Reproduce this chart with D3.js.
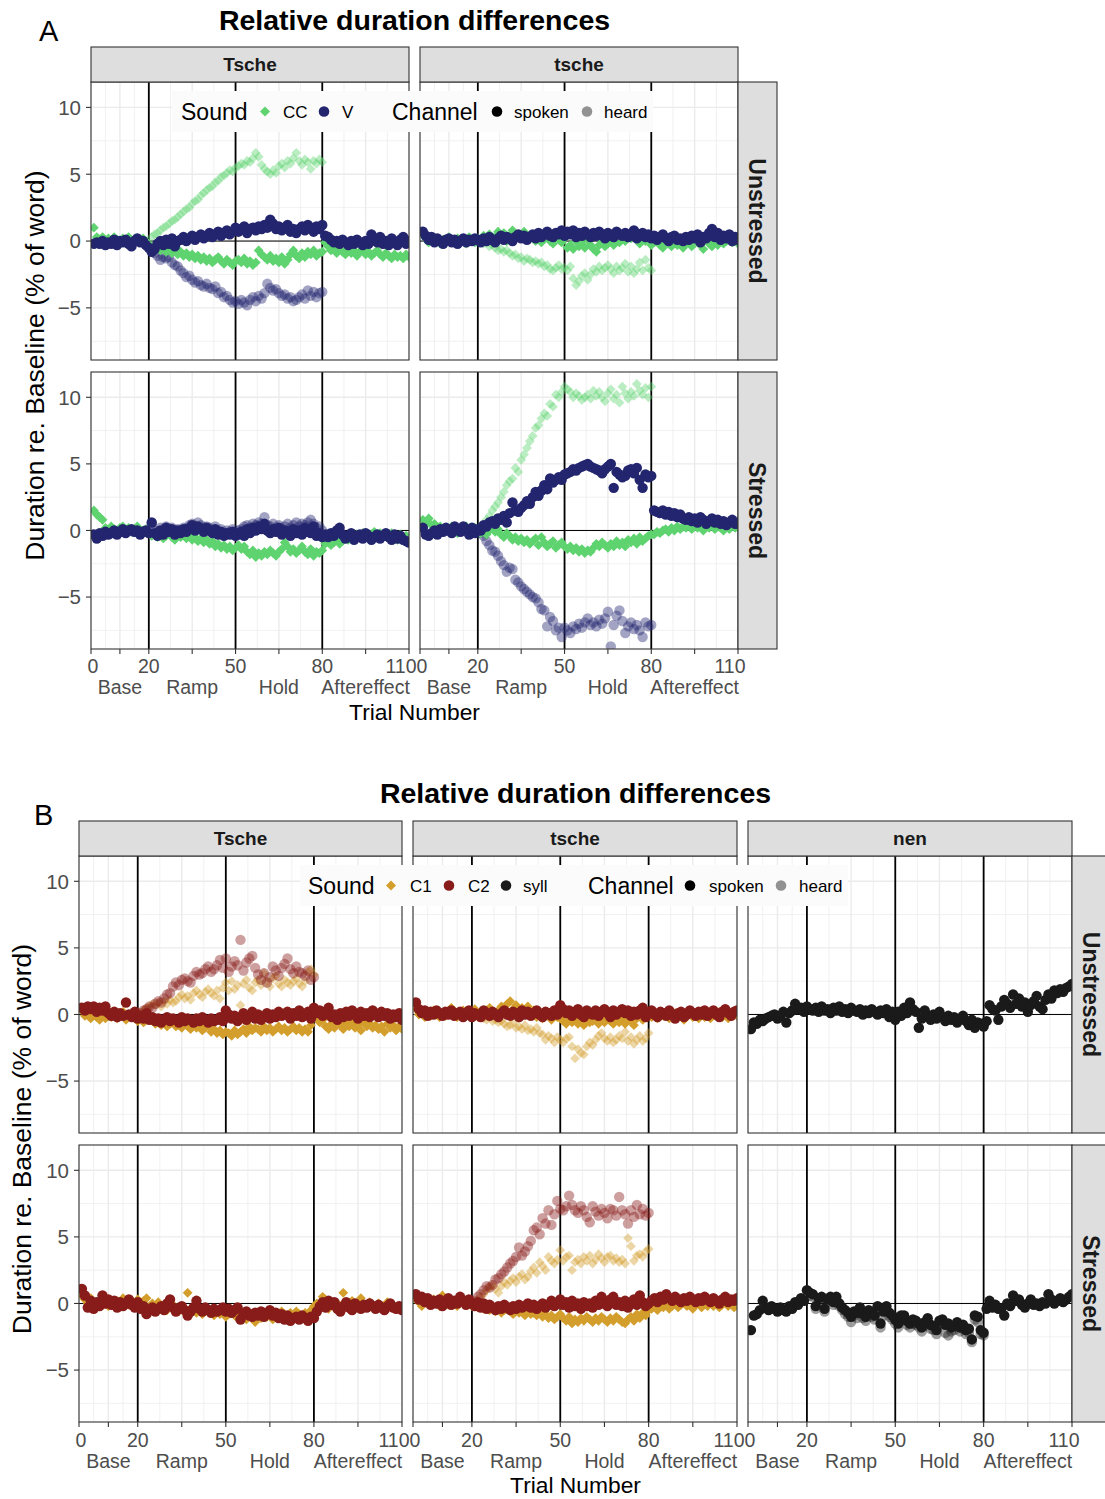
<!DOCTYPE html>
<html><head><meta charset="utf-8">
<script src="https://cdn.jsdelivr.net/npm/d3@7"></script>
<style>
body{margin:0;background:#fff}
svg{display:block}
text{font-family:"Liberation Sans",Arial,Helvetica,sans-serif}
</style>
</head><body>
<svg id="chart" width="1105" height="1499"></svg>
<script>
// ---------------- DATA ----------------
// spoken series: trials 1..110 ; heard series: trials 21..80
const spokenStart = 1, heardStart = 21;

// A: Tsche Unstressed
const A_Tsche_U_CC_spoken = [1.0,0.3,0.1,0.3,-0.1,0.2,0.0,0.3,0.1,-0.1, 0.2,0.0,0.3,-0.2,0.1,0.2,-0.1,0.2,0.0,-0.3,
 -0.4,-0.6,-0.3,-0.7,-0.5,-0.8,-0.6,-0.9,-0.7,-1.0, -0.8,-1.1,-0.9,-1.2,-1.0,-1.3,-1.1,-1.4,-1.2,-1.5,
 -1.3,-1.6,-1.4,-1.2,-1.5,-1.7,-1.4,-1.6,-1.8,-1.5, -1.4,-1.6,-1.3,-1.7,-1.5,-1.8,-1.6,-0.7,-1.0,-1.2,
 -1.4,-1.1,-1.5,-1.3,-1.6,-1.2,-1.7,-1.4,-1.0,-0.7, -1.1,-1.3,-0.9,-1.2,-0.8,-1.0,-0.7,-1.1,-0.9,-0.8,
 -0.1,-0.4,-0.7,-0.5,-0.9,-0.6,-0.8,-1.0,-0.6,-0.9, -0.7,-1.1,-0.8,-0.6,-1.0,-0.8,-1.1,-0.9,-0.7,-1.0,
 -1.2,-0.9,-1.1,-1.3,-1.0,-1.2,-1.1,-1.3,-1.0,-1.2];
const A_Tsche_U_V_spoken = [-0.2,-0.1,-0.2,0.0,-0.3,-0.1,-0.2,0.1,-0.3,0.0, -0.1,0.1,-0.2,-0.4,0.0,0.2,-0.1,0.0,-0.3,-0.5,
 -0.8,-0.6,-0.2,0.0,-0.3,0.1,-0.2,0.2,-0.4,0.0, 0.1,0.3,0.0,0.2,0.4,0.1,0.3,0.5,0.2,0.4,
 0.6,0.3,0.5,0.7,0.4,0.6,0.8,0.5,0.7,1.0, 0.7,0.9,1.1,0.6,0.9,1.0,0.8,1.1,0.9,1.2,
 1.0,1.6,1.3,0.9,1.1,0.8,1.0,1.2,0.7,0.9, 0.6,0.9,1.1,0.8,1.2,1.0,0.7,1.1,0.9,1.2,
 0.4,0.3,0.1,-0.1,0.0,-0.2,0.1,-0.1,-0.3,0.0, -0.2,0.1,-0.1,-0.3,0.0,-0.2,0.5,0.2,-0.1,0.3,
 -0.2,0.0,-0.3,0.2,-0.1,-0.3,0.1,0.3,-0.2,0.0];
const A_Tsche_U_CC_heard = [0.3,0.5,0.6,0.8,1.0,1.1,1.3,1.5,1.6,1.8, 2.0,2.2,2.4,2.5,2.8,3.0,3.1,3.4,3.6,3.8,
 4.0,4.1,4.4,4.5,4.8,4.9,5.1,5.3,5.2,5.5, 5.6,5.8,5.7,6.0,5.9,6.2,6.6,6.3,5.7,5.4,
 5.2,5.0,5.3,5.1,5.6,5.8,5.5,6.0,5.8,6.2, 6.6,6.0,5.7,6.1,5.9,5.4,6.0,5.8,6.1,5.9];
const A_Tsche_U_V_heard = [-0.6,-0.9,-1.1,-1.4,-1.2,-1.3,-1.2,-1.6,-1.8,-1.9, -2.2,-2.4,-2.7,-2.6,-2.9,-3.1,-3.0,-3.3,-3.4,-3.2,
 -3.5,-3.6,-3.4,-3.9,-3.8,-4.2,-4.1,-4.4,-4.6,-4.5, -4.7,-4.4,-4.6,-4.8,-4.4,-4.2,-4.5,-4.1,-4.3,-3.9,
 -3.2,-3.5,-3.7,-3.6,-3.9,-4.1,-4.0,-4.3,-4.2,-4.5, -4.4,-4.2,-4.0,-4.3,-3.7,-4.1,-3.8,-4.2,-3.9,-3.8];

// A: tsche Unstressed
const A_tsche_U_CC_spoken = [0.5,0.2,-0.1,0.3,0.0,0.2,-0.2,0.1,0.0,0.3, 0.1,-0.1,0.2,0.0,0.1,-0.2,0.3,0.1,-0.1,0.2,
 0.0,0.4,0.1,0.5,-0.1,0.3,0.7,0.2,0.6,0.0, 0.4,0.8,0.2,0.5,0.3,0.7,0.1,0.4,0.2,0.0,
 0.3,-0.1,0.2,0.5,0.0,-0.2,0.3,0.1,-0.1,0.2, -0.5,-0.3,-0.6,0.0,-0.4,-0.2,-0.5,0.1,-0.3,-0.6,
 -0.8,-0.3,0.0,-0.4,-0.2,0.1,-0.3,0.2,-0.1,0.3, 0.0,0.5,0.2,0.7,0.1,-0.2,0.4,0.0,0.2,-0.3,
 -0.1,0.2,-0.3,-0.5,0.0,-0.2,-0.4,0.1,-0.3,-0.1, -0.5,-0.2,0.0,-0.4,0.2,-0.1,-0.3,-0.6,0.1,-0.2,
 -0.4,-0.1,-0.3,0.2,-0.2,0.0,0.3,-0.1,0.1,-0.2];
const A_tsche_U_V_spoken = [0.7,0.4,0.1,0.3,-0.1,0.2,0.0,-0.2,0.1,0.2, -0.1,0.1,-0.2,0.0,0.2,-0.1,0.1,0.0,0.2,0.1,
 -0.1,0.2,0.0,0.3,0.1,-0.1,0.2,0.4,0.1,0.3, 0.2,0.0,0.3,0.5,0.2,0.4,0.1,0.3,0.5,0.2,
 0.6,0.3,0.5,0.7,0.4,0.3,0.6,0.5,0.8,0.4, 0.7,0.5,0.8,0.3,0.6,0.4,0.7,0.5,0.3,0.6,
 0.4,0.7,0.5,0.2,0.6,0.4,0.3,0.7,0.5,0.4, 0.6,0.3,0.5,0.8,0.2,0.4,0.6,0.3,0.5,0.2,
 0.4,0.1,0.3,0.5,0.2,0.0,0.3,0.4,0.1,0.2, 0.0,0.3,0.1,0.4,0.2,0.5,-0.1,0.3,0.2,0.6,
 0.9,0.3,0.6,0.1,0.4,0.2,0.5,0.0,0.3,0.1];
const A_tsche_U_CC_heard = [0.0,-0.2,-0.1,-0.4,-0.3,-0.5,-0.7,-0.6,-0.8,-0.7, -0.9,-1.1,-1.0,-1.3,-1.2,-1.5,-1.3,-1.4,-1.6,-1.5,
 -1.7,-1.6,-1.9,-1.8,-2.1,-2.2,-2.0,-1.8,-2.1,-2.0, -2.2,-1.9,-2.8,-3.3,-3.0,-2.6,-2.4,-2.9,-2.5,-2.1,
 -2.3,-1.9,-2.2,-2.0,-1.8,-2.1,-2.4,-1.9,-2.2,-2.0, -1.7,-2.3,-1.9,-2.4,-2.1,-1.6,-2.2,-1.4,-2.0,-2.2];

// A: Tsche Stressed
const A_Tsche_S_CC_spoken = [1.5,1.2,1.0,0.8,0.2,0.0,0.3,0.1,-0.1,0.2, 0.3,0.0,0.2,-0.1,0.1,0.3,-0.2,0.0,0.1,-0.2,
 -0.4,-0.2,-0.5,-0.3,-0.6,-0.4,-0.2,-0.5,-0.7,-0.3, -0.5,-0.2,-0.6,-0.4,-0.7,-0.5,-0.8,-0.6,-0.9,-0.7,
 -1.0,-0.8,-1.2,-1.0,-1.3,-1.1,-1.4,-1.2,-1.5,-1.3, -1.1,-1.4,-1.2,-1.6,-1.8,-1.5,-2.0,-1.7,-1.9,-1.6,
 -1.8,-1.5,-1.7,-1.9,-1.6,-1.4,-0.9,-1.2,-1.6,-1.4, -1.7,-1.5,-1.2,-1.6,-1.8,-1.4,-1.9,-1.6,-1.7,-1.5,
 -1.0,-0.8,-1.1,-0.9,-0.7,-1.0,-0.8,-0.5,-0.7,-0.4, -0.6,-0.3,-0.5,-0.2,-0.4,-0.6,-0.3,-0.1,-0.4,-0.2,
 -0.5,-0.3,-0.6,-0.2,-0.4,-0.7,-0.3,-0.5,-0.4,-0.6];
const A_Tsche_S_V_spoken = [-0.3,-0.6,-0.2,-0.4,-0.1,-0.3,-0.2,0.0,-0.3,-0.1, 0.1,-0.2,0.0,0.1,-0.1,0.0,-0.3,-0.1,0.0,-0.2,
 0.6,-0.2,-0.4,0.0,-0.3,0.2,-0.1,0.1,-0.3,0.0, -0.2,0.1,-0.1,0.2,0.4,0.0,0.3,0.1,-0.1,0.2,
 0.0,-0.2,0.1,-0.3,-0.1,-0.4,-0.2,-0.3,-0.1,-0.4, -0.3,-0.1,-0.4,0.1,-0.2,0.2,0.0,0.3,0.1,0.5,
 0.0,-0.2,0.1,-0.1,0.2,-0.3,0.0,-0.1,-0.4,0.1, -0.2,0.0,-0.3,0.2,-0.1,-0.2,0.3,-0.4,-0.2,-0.5,
 -0.3,-0.5,-0.2,-0.4,0.0,0.2,-0.3,-0.6,-0.4,-0.2, -0.7,-0.5,-0.3,-0.6,-0.2,-0.4,-0.7,-0.5,-0.3,-0.6,
 -0.4,-0.2,-0.5,-0.7,-0.3,-0.6,-0.4,-0.7,-0.8,-0.9];
const A_Tsche_S_V_heard = [0.5,0.0,-0.2,0.2,-0.1,0.3,0.1,0.2,-0.1,0.1, 0.0,0.2,0.1,0.4,0.5,0.3,0.6,0.4,0.2,0.3,
 0.2,0.0,0.3,-0.1,0.1,-0.2,0.0,-0.1,0.1,-0.2, 0.0,0.1,0.3,0.4,0.2,0.5,0.4,0.6,0.5,1.0,
 0.4,0.3,0.5,0.2,0.4,0.1,0.3,0.5,0.2,0.4, 0.6,0.3,0.5,0.4,0.6,0.8,0.5,0.2,0.3,0.0];

// A: tsche Stressed
const A_tsche_S_CC_spoken = [0.8,0.6,0.9,0.4,0.5,0.1,0.3,-0.1,0.2,0.0, 0.3,0.1,-0.2,0.2,0.0,0.3,0.1,-0.1,0.2,0.0,
 -0.2,0.1,-0.3,0.0,0.2,-0.1,0.1,-0.3,-0.5,-0.2, -0.4,-0.7,-0.5,-0.8,-0.6,-0.9,-0.7,-1.0,-0.8,-0.6,
 -1.1,-0.5,-0.9,-1.2,-1.0,-0.8,-1.3,-1.1,-0.9,-1.2, -1.4,-1.2,-1.5,-1.3,-1.6,-1.4,-1.7,-1.5,-1.6,-1.3,
 -1.0,-1.2,-0.9,-1.1,-1.3,-1.0,-1.2,-0.8,-1.1,-0.9, -1.2,-0.7,-0.9,-0.6,-1.0,-0.5,-0.8,-0.6,-0.4,-0.3,
 -0.3,-0.1,-0.2,0.0,0.1,-0.1,0.2,0.0,0.3,0.1, 0.3,0.2,0.4,0.1,0.3,0.2,0.4,0.0,0.3,0.2,
 0.4,0.1,0.3,0.2,0.0,0.3,0.1,0.4,0.2,0.3];
const A_tsche_S_V_spoken = [0.2,-0.3,-0.4,-0.2,0.0,-0.3,0.1,-0.1,0.2,0.0, -0.2,0.3,0.1,-0.1,0.3,0.0,-0.3,0.2,-0.2,0.1,
 0.0,0.4,0.3,0.6,0.7,0.5,0.9,0.8,1.1,0.6, 1.3,2.1,1.5,1.4,1.7,1.9,2.2,2.0,2.5,2.9,
 2.6,3.0,3.4,3.1,3.9,3.6,3.8,4.0,3.8,4.2, 4.3,4.4,4.6,4.5,4.7,4.8,4.9,5.0,4.8,4.7,
 4.6,4.5,4.3,4.6,4.8,5.0,3.2,4.4,4.2,4.0, 4.1,4.5,4.6,4.3,4.7,3.8,3.2,4.2,4.0,4.1,
 1.5,1.4,1.3,1.5,1.2,1.4,1.1,1.3,1.0,1.2, 0.9,0.8,1.0,0.7,0.9,0.6,1.0,0.8,0.5,0.7,
 0.9,0.6,0.8,0.5,0.7,0.4,0.6,0.8,0.5,0.6];
const A_tsche_S_CC_heard = [0.0,0.4,0.8,1.1,1.5,1.8,2.1,2.5,2.9,3.4, 3.7,3.9,4.7,4.4,5.3,5.7,6.2,6.7,7.1,7.7,
 7.9,8.4,8.8,8.6,9.5,9.3,10.2,10.0,10.4,10.8, 10.6,10.4,10.0,10.3,10.1,9.8,10.0,10.2,9.9,10.5,
 10.1,10.4,10.0,9.7,10.3,10.6,9.9,10.2,9.6,10.8, 10.3,9.9,10.4,10.1,11.0,10.5,10.2,10.7,10.0,10.8];
const A_tsche_S_V_heard = [-0.2,-0.4,-0.8,-1.1,-1.5,-1.6,-1.9,-2.3,-2.6,-3.1, -2.8,-2.9,-3.7,-3.9,-4.2,-4.4,-4.6,-4.8,-5.0,-5.1,
 -5.4,-5.9,-6.0,-7.2,-6.5,-6.8,-7.5,-7.3,-8.0,-7.3, -7.5,-7.7,-7.2,-7.4,-7.0,-7.3,-6.9,-6.6,-7.1,-6.9,
 -7.2,-6.7,-7.0,-6.6,-6.1,-8.7,-7.1,-6.4,-6.0,-6.8, -7.7,-7.2,-6.9,-7.4,-7.1,-7.5,-8.0,-6.9,-7.2,-7.1];

// B: Tsche Unstressed
const B_Tsche_U_C1_spoken = [0.3,-0.1,0.2,-0.3,0.0,-0.2,-0.4,0.1,-0.3,-0.1, -0.2,0.0,-0.3,-0.1,0.2,-0.4,0.0,-0.2,-0.3,-0.5,
 -0.3,-0.6,-0.4,-0.2,-0.5,-0.7,-0.6,-0.8,-0.5,-0.9, -0.7,-0.6,-0.9,-0.8,-1.0,-0.7,-0.9,-1.1,-0.8,-1.0,
 -0.9,-1.2,-1.0,-0.8,-1.3,-1.1,-1.4,-1.2,-1.5,-1.3, -1.4,-1.6,-1.2,-1.5,-1.3,-1.1,-1.4,-0.9,-1.2,-1.0,
 -1.1,-1.3,-0.9,-1.2,-1.0,-1.3,-1.1,-0.9,-1.2,-1.0, -1.3,-1.1,-0.9,-1.2,-1.0,-1.3,-1.1,-1.3,-0.8,0.3,
 -0.3,-0.6,-0.4,-0.9,-1.1,-0.7,-1.0,-0.5,-0.8,-1.1, -0.6,-0.9,-0.7,-1.0,-0.8,-1.2,-0.6,-0.9,-0.7,-1.0,
 -0.8,-1.1,-0.9,-1.3,-0.7,-1.0,-0.8,-1.2,-0.9,-1.1];
const B_Tsche_U_C2_spoken = [0.5,0.3,0.6,0.4,0.6,0.2,0.5,0.3,0.6,0.1, -0.1,0.2,-0.2,0.1,-0.1,0.9,0.0,-0.2,0.2,-0.3,
 -0.1,-0.3,0.1,-0.4,-0.2,-0.5,-0.3,-0.6,-0.4,-0.2, -0.5,-0.3,-0.4,-0.6,-0.2,-0.5,-0.3,-0.4,-0.6,-0.3,
 -0.5,-0.2,-0.4,-0.6,-0.3,-0.5,-0.4,-0.2,-0.5,0.3, 0.0,-0.3,-0.1,-0.5,-0.2,0.1,-0.4,-0.1,0.2,-0.3,
 0.0,-0.4,-0.2,0.1,-0.3,0.0,-0.2,0.2,-0.1,0.0, 0.2,-0.3,0.1,-0.1,0.3,-0.2,0.0,0.2,-0.3,0.5,
 0.1,0.3,-0.1,0.2,0.5,-0.2,0.0,-0.4,0.1,-0.2, 0.2,-0.1,0.3,0.0,-0.3,0.2,-0.1,0.1,-0.2,0.3,
 0.0,-0.2,0.2,-0.1,0.1,-0.3,0.0,-0.2,0.1,-0.4];
const B_Tsche_U_C1_heard = [0.1,0.3,0.5,0.6,0.8,0.7,0.9,0.6,1.0,0.8, 1.1,0.9,1.0,1.3,1.5,1.2,1.4,1.1,1.6,1.8,
 1.5,1.3,1.7,1.9,1.6,1.4,1.8,1.2,2.0,2.4, 1.8,2.5,1.9,2.2,0.7,2.3,2.6,2.0,1.8,2.4,
 2.6,2.2,3.1,2.5,2.1,2.7,2.9,2.3,2.1,2.6, 2.4,2.2,2.5,2.7,2.3,2.1,2.5,3.2,3.4,3.0];
const B_Tsche_U_C2_heard = [0.1,0.3,0.4,0.6,0.5,0.8,1.0,0.9,1.2,1.5, 1.6,2.1,2.4,2.2,2.6,2.7,2.5,2.4,2.9,3.2,
 3.0,3.1,3.4,3.6,3.2,3.4,3.7,4.1,3.5,4.2, 3.2,3.6,4.0,3.7,5.6,3.3,3.9,4.2,4.4,3.5,
 3.0,2.6,3.1,2.4,2.8,3.6,3.3,2.9,3.5,3.8, 4.2,3.4,3.1,3.6,3.2,3.1,2.9,3.3,2.6,2.8];

// B: tsche Unstressed
const B_tsche_U_C1_spoken = [0.4,0.0,0.2,-0.2,0.1,-0.1,0.3,0.0,-0.2,0.1, -0.1,0.2,0.5,0.0,-0.2,0.1,0.3,-0.1,0.0,0.2,
 0.4,0.1,-0.1,0.2,0.0,0.5,0.2,-0.1,0.3,0.6, 0.2,0.8,1.0,0.4,0.7,0.1,0.5,0.2,0.6,0.0,
 0.3,-0.2,0.1,-0.3,0.0,-0.1,-0.4,0.2,-0.2,-0.3, -0.5,-0.7,-0.4,-0.6,-0.3,-0.7,-0.5,-0.8,-0.4,-0.6,
 -0.5,-0.3,-0.7,-0.4,-0.6,-0.2,-0.5,-0.7,-0.3,-0.6, -0.4,-0.7,-0.2,-0.5,-0.8,-0.3,-0.1,-0.4,-0.2,0.1,
 -0.2,0.1,-0.3,0.0,-0.1,0.2,-0.3,-0.1,0.1,-0.2, 0.0,-0.4,-0.1,0.2,-0.2,0.1,-0.3,0.0,-0.2,0.1,
 -0.3,0.0,-0.1,0.2,-0.2,0.1,-0.3,0.0,0.2,-0.1];
const B_tsche_U_C2_spoken = [0.9,0.4,0.1,0.3,-0.1,0.2,0.0,0.3,0.1,-0.1, 0.2,0.0,0.3,-0.1,0.1,0.2,-0.2,0.1,0.3,-0.2,
 0.1,0.0,-0.2,0.3,0.1,-0.1,0.2,0.0,-0.2,0.1, 0.3,0.0,-0.1,0.2,0.1,-0.2,0.3,0.0,0.2,-0.1,
 0.1,0.3,0.0,-0.2,0.2,0.1,-0.1,0.3,0.0,0.7, 0.4,0.1,0.3,-0.1,0.2,0.4,0.0,-0.2,0.3,0.1,
 0.0,0.3,-0.1,0.2,0.4,0.1,-0.2,0.3,0.0,0.2, 0.4,0.1,0.3,-0.1,0.2,0.0,0.3,0.5,-0.2,0.1,
 0.3,0.0,-0.2,0.2,0.1,-0.1,0.3,0.0,-0.3,0.1, 0.2,-0.2,0.0,0.3,0.1,-0.1,0.2,0.0,0.3,-0.1,
 0.1,0.3,0.0,-0.2,0.2,0.4,0.1,-0.1,0.2,0.3];
const B_tsche_U_C1_heard = [0.0,-0.2,-0.1,-0.3,-0.4,-0.2,-0.5,-0.4,-0.6,-0.5, -0.7,-0.9,-0.8,-0.6,-1.0,-0.9,-1.1,-0.8,-1.2,-1.1,
 -1.3,-1.0,-1.4,-1.5,-1.9,-1.6,-1.8,-2.1,-1.7,-1.9, -2.1,-1.8,-1.7,-2.4,-3.3,-2.6,-2.9,-3.0,-2.4,-2.1,
 -2.3,-1.9,-1.6,-1.4,-1.8,-2.0,-1.7,-2.1,-1.9,-1.6, -1.8,-1.3,-2.0,-1.7,-2.2,-1.9,-1.6,-2.0,-1.8,-1.4];

// B: nen Unstressed
const B_nen_U_syll_spoken = [-1.1,-0.6,-0.7,-0.4,-0.5,-0.3,-0.2,-0.1,0.0,-0.3, -0.1,0.2,-0.6,0.1,0.3,0.8,0.4,0.5,0.2,0.6,
 0.4,0.3,0.5,0.2,0.6,0.3,0.4,0.1,0.5,0.3, 0.6,0.2,0.4,0.1,0.5,0.3,0.2,0.4,0.0,0.3,
 0.1,0.4,0.2,0.0,0.3,0.1,0.4,-0.2,0.2,-0.4, 0.2,-0.1,0.5,0.1,0.9,0.4,0.2,-1.0,-0.3,0.3,
 -0.1,-0.4,0.0,-0.3,0.2,-0.2,-0.5,-0.1,-0.4,-0.2, -0.6,-0.3,-0.1,-0.5,-0.8,-0.4,-1.0,-0.6,-0.7,-0.9,
 -0.5,0.7,0.4,0.3,-0.4,0.6,1.1,0.8,0.5,1.5, 0.8,1.2,0.6,0.9,0.2,0.7,1.0,1.4,0.6,0.4,
 1.1,1.5,1.2,1.8,1.6,1.9,1.7,2.0,2.1,2.3];

// B: Tsche Stressed
const B_Tsche_S_C1_spoken = [0.6,0.3,0.0,0.4,0.1,-0.1,0.2,0.3,0.0,-0.2, 0.1,-0.1,0.2,0.0,0.4,0.1,-0.1,0.2,0.0,0.3,
 -0.1,0.2,0.4,-0.2,0.0,-0.3,0.1,-0.4,-0.2,-0.5, -0.3,-0.1,-0.4,-0.6,-0.3,-0.5,0.8,-0.4,-0.6,-0.7,
 -0.5,-0.8,-0.6,-0.4,-0.7,-0.9,-0.6,-0.8,-0.5,-1.0, -0.8,-0.6,-0.9,-1.1,-0.7,-1.0,-1.2,-0.8,-1.1,-1.4,
 -0.9,-1.1,-0.8,-1.0,-0.7,-1.2,-0.9,-1.1,-0.6,-0.8, -1.0,-0.7,-0.9,-0.6,-0.8,-1.1,-0.7,-0.9,-0.5,-0.2,
 0.0,-0.4,0.5,-0.2,-0.4,-0.1,-0.3,0.0,-0.2,0.8, -0.3,-0.1,0.2,-0.4,0.0,0.4,-0.2,-0.3,0.1,-0.1,
 -0.3,0.0,-0.4,-0.2,0.1,-0.3,-0.1,-0.4,-0.2,-0.3];
const B_Tsche_S_C2_spoken = [1.1,0.6,-0.3,0.2,-0.4,0.1,-0.2,0.6,0.0,0.3, -0.1,0.2,-0.3,0.1,-0.2,0.0,0.3,-0.1,-0.3,0.1,
 -0.4,-0.2,-0.8,-0.5,-0.3,-0.6,-0.4,-0.2,-0.5,0.0, 0.3,-0.3,-0.6,-0.4,-0.2,-0.5,-0.9,-0.6,-0.3,0.2,
 -0.4,-0.6,-0.3,-0.5,-0.7,-0.4,-0.6,-0.5,-0.3,-0.6, -0.4,-0.7,-0.5,-0.3,-1.2,-0.8,-0.6,-0.9,-1.0,-0.7,
 -0.9,-0.6,-1.0,-0.8,-0.5,-0.9,-0.7,-1.1,-0.8,-1.2, -0.9,-1.3,-1.1,-1.0,-1.2,-0.9,-1.1,-1.3,-1.0,-1.1,
 -0.6,-0.2,0.1,-0.3,0.2,-0.1,0.1,-0.4,-0.6,-0.2, 0.1,-0.3,-0.5,0.0,-0.2,-0.4,-0.1,-0.3,0.0,-0.2,
 -0.4,-0.1,-0.3,-0.5,-0.2,0.0,-0.3,-0.4,-0.2,-0.5];

// B: tsche Stressed
const B_tsche_S_C1_spoken = [0.3,0.1,-0.2,0.2,0.0,-0.1,0.3,0.1,-0.2,0.6, 0.1,-0.1,0.2,0.0,-0.2,0.3,0.1,-0.1,0.2,-0.2,
 0.0,-0.3,-0.1,-0.4,-0.2,-0.5,-0.3,-0.6,-0.4,-0.7, -0.5,-0.3,-0.6,-0.8,-0.5,-0.7,-0.4,-0.9,-0.6,-0.8,
 -0.7,-0.9,-0.6,-1.0,-0.8,-1.1,-0.9,-1.2,-1.0,-0.8, -1.1,-1.3,-1.0,-1.5,-1.2,-1.4,-1.1,-1.3,-1.0,-1.2,
 -1.4,-1.1,-1.3,-1.0,-1.2,-1.4,-1.1,-1.3,-1.0,-1.2, -1.4,-1.5,-1.2,-1.0,-1.3,-0.8,-1.1,-0.7,-0.9,-0.5,
 -0.4,-0.2,-0.5,-0.1,-0.3,0.0,-0.4,-0.2,0.1,-0.3, -0.1,0.2,-0.2,0.0,-0.4,-0.1,0.1,-0.3,0.0,-0.2,
 0.1,-0.2,0.0,-0.3,-0.1,0.1,-0.2,0.0,-0.3,-0.1];
const B_tsche_S_C2_spoken = [0.7,0.3,0.5,0.1,0.4,-0.1,0.2,0.0,0.3,-0.2, 0.1,0.4,-0.1,0.2,0.0,0.5,0.2,-0.1,0.3,0.0,
 -0.2,0.1,-0.3,0.0,-0.4,-0.1,-0.3,-0.5,-0.2,-0.4, -0.1,-0.3,-0.5,-0.2,-0.4,-0.1,-0.3,-0.2,0.0,-0.3,
 -0.1,-0.4,-0.2,0.0,-0.3,-0.1,0.2,-0.2,0.0,0.3, -0.1,0.1,-0.3,0.2,-0.2,0.0,-0.4,0.1,-0.2,0.0,
 -0.3,0.2,-0.1,0.5,0.0,-0.2,0.3,0.5,-0.1,0.1, -0.2,0.2,-0.3,0.0,0.3,-0.1,0.6,0.1,-0.2,0.0,
 0.2,0.4,0.1,0.5,0.3,0.7,0.4,0.2,0.5,0.3, 0.1,0.4,0.2,0.5,0.3,0.1,0.4,0.2,0.5,0.3,
 0.1,0.4,0.2,0.0,0.3,0.5,0.1,0.3,0.2,0.4];
const B_tsche_S_C1_heard = [0.1,0.2,0.5,0.7,1.0,1.2,1.4,1.1,0.8,1.3, 1.6,1.4,1.7,1.9,1.6,2.0,2.2,1.8,2.0,2.4,
 2.7,2.3,3.1,2.8,2.5,3.5,3.2,3.0,3.3,4.0, 3.2,3.5,3.6,2.5,3.1,3.3,3.0,3.5,3.2,3.6,
 3.0,3.3,3.7,3.4,3.1,3.5,3.6,3.2,3.4,3.1, 3.3,3.0,4.9,4.3,3.2,3.6,3.7,3.5,3.9,4.1];
const B_tsche_S_C2_heard = [0.2,0.5,0.7,1.0,1.3,1.2,1.4,1.8,1.9,2.2, 2.4,2.7,3.0,3.2,3.5,4.2,3.6,3.9,4.3,4.7,
 5.5,5.7,5.2,6.4,6.0,7.0,5.9,6.7,7.7,7.1, 7.0,7.3,8.1,7.4,7.0,6.8,7.3,7.0,6.5,6.1,
 7.3,6.9,6.6,7.1,6.8,6.4,7.1,7.0,6.6,8.0, 7.0,6.7,6.0,7.0,6.5,7.4,6.7,7.1,6.6,6.8];

// B: nen Stressed
const B_nen_S_syll_spoken = [-2.0,-0.9,-0.8,-0.5,0.2,-0.3,-0.5,-0.2,-0.4,-0.6, -0.3,-0.5,-0.6,-0.2,-0.4,0.1,-0.1,0.4,0.2,1.0,
 0.8,0.7,-0.2,0.4,0.5,-0.4,0.3,0.5,0.1,0.5, 0.0,-0.3,-0.5,-0.7,-1.0,-0.6,-0.7,-0.3,-0.8,-1.0,
 -0.5,-0.7,-0.9,-0.2,-1.5,-0.6,-0.2,-0.7,-0.9,-1.2, -1.5,-0.9,-0.9,-1.3,-1.5,-1.2,-1.3,-1.5,-1.8,-1.4,
 -1.1,-1.6,-1.7,-2.0,-1.3,-1.2,-1.6,-1.5,-1.8,-1.7, -1.4,-1.8,-1.6,-2.0,-1.9,-2.7,-0.9,-1.0,-2.0,-2.2,
 -0.4,0.2,-0.3,-0.1,-0.4,-0.4,-0.9,0.0,-0.2,0.6, 0.2,0.3,-0.1,-0.3,0.0,0.3,-0.1,0.0,-0.2,0.1,
 0.0,0.7,0.3,0.0,0.2,0.4,0.1,0.3,0.5,0.7];
const B_nen_S_syll_heard = [0.6,0.5,-0.4,0.2,0.3,-0.6,0.1,0.3,-0.1,0.3, -0.2,-0.5,-0.8,-1.0,-1.4,-0.9,-1.1,-0.6,-1.1,-1.3,
 -0.8,-1.0,-1.2,-0.5,-1.8,-0.9,-0.5,-1.0,-1.2,-1.5, -1.8,-1.2,-1.3,-1.6,-1.8,-1.5,-1.6,-1.8,-2.1,-1.7,
 -1.4,-1.9,-2.0,-2.3,-1.6,-1.5,-2.2,-2.4,-2.1,-2.0, -1.7,-2.1,-1.9,-2.3,-2.2,-2.9,-1.2,-1.4,-2.3,-2.4];

// axis / category definitions
const xDomain = [0, 110];
const yDomain = [-8.9, 11.9];
const xBreaks = [0, 10, 20, 35, 50, 65, 80, 95, 110];
const xBreakLabels = ["0", "Base", "20", "Ramp", "50", "Hold", "80", "Aftereffect", "110"];
const xMinorBreaks = [5, 15, 27.5, 42.5, 57.5, 72.5, 87.5, 102.5];
const yBreaks = [-5, 0, 5, 10];
const yBreakLabels = ["\u22125", "0", "5", "10"];
const yMinorBreaks = [-7.5, -2.5, 2.5, 7.5];
const phaseBoundaries = [20, 50, 80];
const stressLevels = ["Unstressed", "Stressed"];
const wordsA = ["Tsche", "tsche"];
const wordsB = ["Tsche", "tsche", "nen"];
const soundsA = ["CC", "V"];
const soundsB = ["C1", "C2", "syll"];
const channels = ["spoken", "heard"];

// ---------------- STYLE ----------------
const soundColor = {CC: "#5ED36F", V: "#23256F", C1: "#D39E2C", C2: "#881C1A", syll: "#1A1A1A"};
const soundShape = {CC: "diamond", V: "circle", C1: "diamond", C2: "circle", syll: "circle"};
const channelAlpha = {spoken: 1, heard: 0.42};
const pointRadius = 5.2, diamondHalf = 4.9;
// horizontal nudge of the end labels (as placed in the reference)
const xLabelNudge = {0: 2, 110: -8};

// series table built from the arrays
function S(sound, channel, values) {
  return {sound, channel, values, start: channel === "spoken" ? spokenStart : heardStart};
}
const panelsA = [
  {word: "Tsche", stress: "Unstressed", series: [S("CC","heard",A_Tsche_U_CC_heard), S("V","heard",A_Tsche_U_V_heard), S("CC","spoken",A_Tsche_U_CC_spoken), S("V","spoken",A_Tsche_U_V_spoken)]},
  {word: "tsche", stress: "Unstressed", series: [S("CC","heard",A_tsche_U_CC_heard), S("CC","spoken",A_tsche_U_CC_spoken), S("V","spoken",A_tsche_U_V_spoken)]},
  {word: "Tsche", stress: "Stressed", series: [S("V","heard",A_Tsche_S_V_heard), S("CC","spoken",A_Tsche_S_CC_spoken), S("V","spoken",A_Tsche_S_V_spoken)]},
  {word: "tsche", stress: "Stressed", series: [S("CC","heard",A_tsche_S_CC_heard), S("V","heard",A_tsche_S_V_heard), S("CC","spoken",A_tsche_S_CC_spoken), S("V","spoken",A_tsche_S_V_spoken)]}
];
const panelsB = [
  {word: "Tsche", stress: "Unstressed", series: [S("C1","heard",B_Tsche_U_C1_heard), S("C2","heard",B_Tsche_U_C2_heard), S("C1","spoken",B_Tsche_U_C1_spoken), S("C2","spoken",B_Tsche_U_C2_spoken)]},
  {word: "tsche", stress: "Unstressed", series: [S("C1","heard",B_tsche_U_C1_heard), S("C1","spoken",B_tsche_U_C1_spoken), S("C2","spoken",B_tsche_U_C2_spoken)]},
  {word: "nen", stress: "Unstressed", series: [S("syll","spoken",B_nen_U_syll_spoken)]},
  {word: "Tsche", stress: "Stressed", series: [S("C1","spoken",B_Tsche_S_C1_spoken), S("C2","spoken",B_Tsche_S_C2_spoken)]},
  {word: "tsche", stress: "Stressed", series: [S("C1","heard",B_tsche_S_C1_heard), S("C2","heard",B_tsche_S_C2_heard), S("C1","spoken",B_tsche_S_C1_spoken), S("C2","spoken",B_tsche_S_C2_spoken)]},
  {word: "nen", stress: "Stressed", series: [S("syll","heard",B_nen_S_syll_heard), S("syll","spoken",B_nen_S_syll_spoken)]}
];

// ---------------- LAYOUT ----------------
const figA = {
  letter: "A", letterX: 39, letterY: 41, title: "Relative duration differences", titleX: 414.5, titleY: 30,
  words: wordsA, sounds: soundsA, panels: panelsA,
  cols: [[91, 409], [420, 738]], rows: [[82, 360], [372, 649]],
  stripTop: 47, stripRight: 777,
  yTickLabelX: 81, yTitleX: 44, xNumY: 673, xNameY: 694, xTitleY: 720,
  legend: {box: [172, 91, 481, 41], cy: 111.5, titleSound: 181, titleChannel: 392,
    keys: [{sound: "CC", kx: 265, tx: 283}, {sound: "V", kx: 324, tx: 342}],
    chKeys: [{ch: "spoken", kx: 497, tx: 514}, {ch: "heard", kx: 587, tx: 604}]}
};
const figB = {
  letter: "B", letterX: 34, letterY: 825, title: "Relative duration differences", titleX: 575.5, titleY: 803,
  words: wordsB, sounds: soundsB, panels: panelsB,
  cols: [[79, 402], [413, 737], [748, 1072]], rows: [[856, 1133], [1145, 1422]],
  stripTop: 821, stripRight: 1111,
  yTickLabelX: 69, yTitleX: 31, xNumY: 1447, xNameY: 1468, xTitleY: 1493,
  legend: {box: [300, 865, 548, 41], cy: 885.5, titleSound: 308, titleChannel: 588,
    keys: [{sound: "C1", kx: 391, tx: 410}, {sound: "C2", kx: 449, tx: 468}, {sound: "syll", kx: 506, tx: 523}],
    chKeys: [{ch: "spoken", kx: 690, tx: 709}, {ch: "heard", kx: 781, tx: 799}]}
};

const svg = d3.select("#chart");
svg.append("rect").attr("width", 1105).attr("height", 1499).attr("fill", "#fff");
const defs = svg.append("defs");
let clipId = 0;

function diamondPath(s) { return `M0,${-s}L${s},0L0,${s}L${-s},0Z`; }

function drawFigure(fig) {
  const g = svg.append("g");
  const nCols = fig.cols.length;
  g.append("text").attr("x", fig.titleX).attr("y", fig.titleY).attr("text-anchor", "middle")
    .attr("font-size", 28.5).attr("font-weight", "bold").attr("fill", "#000").text(fig.title);
  g.append("text").attr("x", fig.letterX).attr("y", fig.letterY).attr("font-size", 29).attr("fill", "#000").text(fig.letter);

  fig.panels.forEach(p => {
    const ci = fig.words.indexOf(p.word), ri = stressLevels.indexOf(p.stress);
    const [x0, x1] = fig.cols[ci], [y0, y1] = fig.rows[ri];
    const x = d3.scaleLinear().domain(xDomain).range([x0, x1]);
    const y = d3.scaleLinear().domain(yDomain).range([y1, y0]);
    const pg = g.append("g");
    pg.append("rect").attr("x", x0).attr("y", y0).attr("width", x1 - x0).attr("height", y1 - y0).attr("fill", "#fff");
    pg.selectAll(null).data(xMinorBreaks).enter().append("line")
      .attr("x1", d => x(d)).attr("x2", d => x(d)).attr("y1", y0).attr("y2", y1)
      .attr("stroke", "#ebebeb").attr("stroke-width", 0.7);
    pg.selectAll(null).data(yMinorBreaks).enter().append("line")
      .attr("y1", d => y(d)).attr("y2", d => y(d)).attr("x1", x0).attr("x2", x1)
      .attr("stroke", "#ebebeb").attr("stroke-width", 0.7);
    pg.selectAll(null).data(xBreaks).enter().append("line")
      .attr("x1", d => x(d)).attr("x2", d => x(d)).attr("y1", y0).attr("y2", y1)
      .attr("stroke", "#ebebeb").attr("stroke-width", 1.4);
    pg.selectAll(null).data(yBreaks).enter().append("line")
      .attr("y1", d => y(d)).attr("y2", d => y(d)).attr("x1", x0).attr("x2", x1)
      .attr("stroke", "#ebebeb").attr("stroke-width", 1.4);
    pg.append("line").attr("x1", x0).attr("x2", x1).attr("y1", y(0)).attr("y2", y(0))
      .attr("stroke", "#000").attr("stroke-width", 1);
    pg.selectAll(null).data(phaseBoundaries).enter().append("line")
      .attr("x1", d => x(d)).attr("x2", d => x(d)).attr("y1", y0).attr("y2", y1)
      .attr("stroke", "#000").attr("stroke-width", 1.8);
    const id = "clip" + (clipId++);
    defs.append("clipPath").attr("id", id).append("rect")
      .attr("x", x0).attr("y", y0).attr("width", x1 - x0).attr("height", y1 - y0);
    const ptg = pg.append("g").attr("clip-path", `url(#${id})`);
    p.series.forEach(s => {
      const pts = s.values.map((v, i) => ({t: s.start + i, v}));
      const col = soundColor[s.sound], a = channelAlpha[s.channel];
      if (soundShape[s.sound] === "circle") {
        ptg.selectAll(null).data(pts).enter().append("circle")
          .attr("cx", d => x(d.t)).attr("cy", d => y(d.v)).attr("r", pointRadius)
          .attr("fill", col).attr("fill-opacity", a);
      } else {
        ptg.selectAll(null).data(pts).enter().append("path")
          .attr("transform", d => `translate(${x(d.t)},${y(d.v)})`).attr("d", diamondPath(diamondHalf))
          .attr("fill", col).attr("fill-opacity", a);
      }
    });
    pg.append("rect").attr("x", x0).attr("y", y0).attr("width", x1 - x0).attr("height", y1 - y0)
      .attr("fill", "none").attr("stroke", "#333").attr("stroke-width", 1.1);

    if (ci === 0) {
      pg.selectAll(null).data(yBreaks).enter().append("line")
        .attr("x1", x0 - 5).attr("x2", x0).attr("y1", d => y(d)).attr("y2", d => y(d))
        .attr("stroke", "#333").attr("stroke-width", 1.1);
      pg.selectAll(null).data(yBreaks).enter().append("text")
        .attr("x", fig.yTickLabelX).attr("y", d => y(d)).attr("dy", "0.36em").attr("text-anchor", "end")
        .attr("font-size", 20.5).attr("fill", "#4d4d4d").text((d, i) => yBreakLabels[i]);
    }
    if (ri === stressLevels.length - 1) {
      pg.selectAll(null).data(xBreaks).enter().append("line")
        .attr("x1", d => x(d)).attr("x2", d => x(d)).attr("y1", y1).attr("y2", y1 + 5)
        .attr("stroke", "#333").attr("stroke-width", 1.1);
      pg.selectAll(null).data(xBreaks).enter().append("text")
        .attr("x", d => x(d) + (xLabelNudge[d] || 0)).attr("y", (d, i) => i % 2 === 0 ? fig.xNumY : fig.xNameY)
        .attr("text-anchor", "middle").attr("font-size", 19.5).attr("fill", "#4d4d4d")
        .text((d, i) => xBreakLabels[i]);
    }
  });

  fig.words.forEach((w, ci) => {
    const [x0, x1] = fig.cols[ci];
    g.append("rect").attr("x", x0).attr("y", fig.stripTop).attr("width", x1 - x0).attr("height", fig.rows[0][0] - fig.stripTop)
      .attr("fill", "#dedede").attr("stroke", "#333").attr("stroke-width", 1.1);
    g.append("text").attr("x", (x0 + x1) / 2).attr("y", (fig.stripTop + fig.rows[0][0]) / 2).attr("dy", "0.36em")
      .attr("text-anchor", "middle").attr("font-size", 19).attr("font-weight", "bold").attr("fill", "#1a1a1a").text(w);
  });
  const rx0 = fig.cols[nCols - 1][1];
  stressLevels.forEach((s, ri) => {
    const [y0, y1] = fig.rows[ri];
    g.append("rect").attr("x", rx0).attr("y", y0).attr("width", fig.stripRight - rx0).attr("height", y1 - y0)
      .attr("fill", "#dedede").attr("stroke", "#333").attr("stroke-width", 1.1);
    g.append("text").attr("transform", `translate(${(rx0 + Math.min(fig.stripRight, rx0 + 39)) / 2},${(y0 + y1) / 2}) rotate(90)`)
      .attr("dy", "0.36em").attr("text-anchor", "middle").attr("font-size", 23).attr("font-weight", "bold")
      .attr("fill", "#1a1a1a").text(s);
  });

  const left = fig.cols[0][0], right = fig.cols[nCols - 1][1];
  const top = fig.rows[0][0], bottom = fig.rows[fig.rows.length - 1][1];
  g.append("text").attr("x", (left + right) / 2).attr("y", fig.xTitleY).attr("text-anchor", "middle")
    .attr("font-size", 22.8).attr("fill", "#000").text("Trial Number");
  g.append("text").attr("transform", `translate(${fig.yTitleX},${(top + bottom) / 2}) rotate(-90)`)
    .attr("text-anchor", "middle").attr("font-size", 26.5).attr("fill", "#000").text("Duration re. Baseline (% of word)");

  const L = fig.legend;
  const lg = g.append("g");
  lg.append("rect").attr("x", L.box[0]).attr("y", L.box[1]).attr("width", L.box[2]).attr("height", L.box[3])
    .attr("fill", "#fbfbfb");
  lg.append("text").attr("x", L.titleSound).attr("y", L.cy).attr("dy", "0.36em").attr("font-size", 23).attr("fill", "#000").text("Sound");
  L.keys.forEach(k => {
    if (soundShape[k.sound] === "circle") {
      lg.append("circle").attr("cx", k.kx).attr("cy", L.cy).attr("r", 5.3).attr("fill", soundColor[k.sound]);
    } else {
      lg.append("path").attr("transform", `translate(${k.kx},${L.cy})`).attr("d", diamondPath(5)).attr("fill", soundColor[k.sound]);
    }
    lg.append("text").attr("x", k.tx).attr("y", L.cy).attr("dy", "0.36em").attr("font-size", 17).attr("fill", "#000").text(k.sound);
  });
  lg.append("text").attr("x", L.titleChannel).attr("y", L.cy).attr("dy", "0.36em").attr("font-size", 23).attr("fill", "#000").text("Channel");
  L.chKeys.forEach(k => {
    lg.append("circle").attr("cx", k.kx).attr("cy", L.cy).attr("r", 5.3).attr("fill", "#000").attr("fill-opacity", channelAlpha[k.ch]);
    lg.append("text").attr("x", k.tx).attr("y", L.cy).attr("dy", "0.36em").attr("font-size", 17).attr("fill", "#000").text(k.ch);
  });
}

drawFigure(figA);
drawFigure(figB);
</script>
</body></html>
